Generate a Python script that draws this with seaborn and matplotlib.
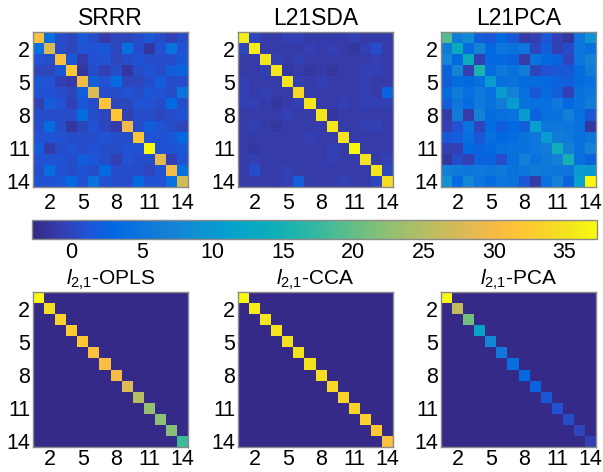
import numpy as np
import matplotlib
matplotlib.use("Agg")
import matplotlib.pyplot as plt
from matplotlib.colors import LinearSegmentedColormap, Normalize
from matplotlib.cm import ScalarMappable
import seaborn as sns

sns.set_style("white")
plt.rcParams["font.family"] = ["Liberation Sans", "DejaVu Sans"]
plt.rcParams["mathtext.fontset"] = "custom"
plt.rcParams["mathtext.rm"] = "Liberation Sans"
plt.rcParams["mathtext.it"] = "Liberation Sans:italic"
plt.rcParams["text.color"] = "black"
plt.rcParams["xtick.color"] = "black"
plt.rcParams["ytick.color"] = "black"

# ---- data -------------------------------------------------------------
tick_labels = ["2", "5", "8", "11", "14"]
cbar_ticks = [0, 5, 10, 15, 20, 25, 30, 35]
vmin, vmax = -2.8, 37.3

srrr = [
    [31, 4, 0.5, 0, 1.5, 0.5, -1, 0, 0, 0.5, 1.5, 0.5, -0.5, 0.5],
    [4, 28, 0.5, 0, 1, 1, 1.5, 0, 4, 0.5, -1.5, 1, 4.5, 1],
    [1, 0.5, 30.5, 1.5, -1, 1, 1, 0, 0.5, 1, 0.5, 0.5, 0.5, 1.5],
    [0, 0, 1.5, 32, -1.5, 0.5, -0.5, 0.5, -1.5, 0.5, 1, 0.5, 2, 2.5],
    [1.5, 1, -0.5, -1, 30, 2, 1, 3.5, 0, 0, 0.5, 2, 0.5, 0.5],
    [1, 1, 0.5, 0, 2, 28, 0.5, 0.5, 1, 0.5, 1.5, 1, 0.5, 4.5],
    [-0.5, 2, 1, -0.5, 1.5, 0.5, 31.5, 0, 0, 1, 1, 0.5, 3, 0.5],
    [0.5, 0.5, 0.5, 0.5, 3.5, 0.5, 0, 32, -0.5, 0.5, 0.5, 0, 0.5, 1],
    [0.5, 3.5, 0.5, -1.5, 0, 1, 0, -1, 29.5, 0.5, 2, 1, 0.5, 0],
    [1, 1, 1, 0.5, 0.5, 0.5, 1, 0.5, 0.5, 31.5, 1, 1, 1.5, 3],
    [2, -1, 0.5, 1, 0.5, 1, 0.5, 0.5, 1, 1, 37, 1, 1, 1.5],
    [1, 1, 1, 0.5, 2, 1.5, 0.5, -0.5, 1, 0.5, 0.5, 28.5, -0.5, 1],
    [0.5, 3.5, 1, 0.5, 1, 0.5, 3, 0.5, 0.5, 0.5, 0, 1, 30, 4],
    [1, 1, 1.5, 3, 1, 4.5, 1, 0.5, 0.5, 3, 1, 1, 4, 27],
]

l21sda = [
    [36, 0, -1, -1, -0.5, -0.5, -1, -1, -1, -1, -0.5, -1, -1, -1],
    [0, 36, -1, -1, -1, -1, -0.5, -1, -0.5, -1, -1.5, -0.5, 0.5, -1],
    [-1, -1, 35.5, -0.5, -1, -0.5, -1, -1, -1, -1, -1, -1, -0.5, -1],
    [-1, -1, -0.5, 35.5, -1.5, -1, -1.5, -1, -1.5, -1, -1, -0.5, -0.5, -1],
    [-0.5, -1, -1, -1, 35.5, -0.5, -1, -0.5, -1, -1, -1, -0.5, -1, -1],
    [-0.5, -1, -0.5, -1, -1, 34, -1, -1, -1, -1, -1, -0.5, -1, 2.5],
    [-0.5, -0.5, -1, -1.5, -1, -0.5, 35.5, -1, -1, -0.5, -1, -0.5, -0.5, -0.5],
    [-1, -1, -1, -1, -0.5, -1, -1, 35.5, -1.5, -1, -1, -1, -1, -1],
    [-1, -0.5, -1, -1.5, -1, -1, -1, -1, 35.5, -1, -1, -0.5, -0.5, -1],
    [-1, -1, -1, -1, -1, -1, -0.5, -1, -1, 35.5, -1, -1, -1, -1],
    [-1, -1.5, -1, -1, -1, -1, -1, -1, -0.5, -1, 37, -1, -1, -1],
    [-1, -0.5, -1, -1, -1, -1, -1, -1, -0.5, -1, -1, 35, -1, -0.5],
    [-1, 0.5, -1, -1, -0.5, -1, -1, -1, -1, -1, -1, -1, 35.5, 0],
    [-1, -1, -1, -1, -0.5, 2, -1, -1, -1, -0.5, -1, -1, 0, 34.5],
]

l21pca = [
    [19, 6, 8, 2, 1.5, 3, 1.5, -1, -0.5, 1.5, -0.5, -1.5, 5, 9],
    [6, 13.5, 3.5, 7.5, 3, 5, 4.5, 5, 0, 2, -0.5, 0.5, 5, 4],
    [7.5, 3, 13.5, -0.5, 3, 3, 2.5, -1, 4.5, 3, 2.5, 0, 5, 7],
    [2.5, 7.5, -0.5, 15.5, 3.5, 5.5, 4.5, 6, 0, 1, 1.5, 1.5, 3.5, 6],
    [2, 3.5, 3, 4, 10.5, 4, 4.5, 3.5, 3.5, 3, 2.5, 2, 3.5, 4],
    [3.5, 6, 4, 5.5, 4, 10.5, 6.5, 4, 1.5, 3.5, 2, -0.5, 4.5, 5],
    [2, 5, 3.5, 5.5, 4.5, 6, 10.5, 4.5, 4, 4, 5.5, 3, 4.5, 6],
    [-1, 6, -1, 7, 3.5, 4, 4.5, 10.5, 2.5, 4, 4.5, 6.5, 4, 1.5],
    [-0.5, 1, 4.5, 0, 3.5, 2, 3, 2, 11, 5, 5.5, 5, 4, -1.5],
    [1.5, 2, 4, 1.5, 4, 3, 3.5, 4.5, 5, 10.5, 6, 5.5, 4, 5],
    [-0.5, -0.5, 3, 2.5, 3, 4, 4.5, 4.5, 5, 6, 14, 6.5, 4.5, 7],
    [-1.5, 0.5, -0.5, 2.5, 2.5, 0.5, 4, 6.5, 4.5, 5.5, 6.5, 15, 4, 2.5],
    [6.5, 6, 5, 5.5, 5, 5.5, 4.5, 5, 6, 5.5, 5, 5, 10.5, 10],
    [9, 3.5, 7.5, 5, 3.5, 5, 4.5, 1.5, -1, 4, 6.5, 2.5, 11, 37],
]

# diagonal-only methods: off-diagonal entries sit at the bottom of the scale
l21opls_diag = [37, 34.5, 33, 32.5, 32, 31, 30.5, 30, 28, 25, 23, 22.5, 22, 18]
l21cca_diag = [37, 36, 35.5, 35.5, 35, 35, 35, 34.5, 34, 33.5, 33.5, 33, 32, 31]
l21pca2_diag = [37, 26, 21, 11.5, 7.5, 5.5, 4, 3, 2.5, 1.5, 1, 0.5, 0, -0.5]
off_diag_floor = -2.8

# ---- parula colormap --------------------------------------------------
parula_pts = [
    (0.2081, 0.1663, 0.5292), (0.2081, 0.2386, 0.6771), (0.1253, 0.3242, 0.8303),
    (0.0060, 0.4086, 0.8828), (0.0498, 0.4586, 0.8641), (0.0779, 0.5040, 0.8384),
    (0.0641, 0.5570, 0.8240), (0.0265, 0.6137, 0.8135), (0.0228, 0.6535, 0.7768),
    (0.0590, 0.6838, 0.7254), (0.1453, 0.7098, 0.6646), (0.2586, 0.7317, 0.5954),
    (0.3953, 0.7459, 0.5244), (0.5300, 0.7491, 0.4661), (0.6473, 0.7456, 0.4188),
    (0.7525, 0.7384, 0.3768), (0.8507, 0.7299, 0.3360), (0.9450, 0.7261, 0.2886),
    (0.9990, 0.7653, 0.2164), (0.9789, 0.8271, 0.1633), (0.9589, 0.8949, 0.1132),
    (0.9763, 0.9831, 0.0538),
]
parula = LinearSegmentedColormap.from_list("parula", parula_pts, N=256)


def diag_matrix(diag, floor):
    m = np.full((len(diag), len(diag)), floor, dtype=float)
    np.fill_diagonal(m, diag)
    return m


panels = [
    ("SRRR", np.array(srrr, dtype=float)),
    ("L21SDA", np.array(l21sda, dtype=float)),
    ("L21PCA", np.array(l21pca, dtype=float)),
    (r"$l_{2{,}1}$-OPLS", diag_matrix(l21opls_diag, off_diag_floor)),
    (r"$l_{2{,}1}$-CCA", diag_matrix(l21cca_diag, off_diag_floor)),
    (r"$l_{2{,}1}$-PCA", diag_matrix(l21pca2_diag, off_diag_floor)),
]

# ---- layout -----------------------------------------------------------
W, H = 603, 472
fig = plt.figure(figsize=(W / 100, H / 100), dpi=100)

lefts = [33, 238, 441]
tops = [32, 292]
size = 155

tick_pos = [int(t) - 0.5 for t in tick_labels]
edge = "#8a8a8a"
tick_fs = 15.5
title_fs = [16.5, 15]
title_pad = [5, 5]
xpad = [4, 1.5]

for i, (title, mat) in enumerate(panels):
    r, c = divmod(i, 3)
    ax = fig.add_axes([lefts[c] / W, 1 - (tops[r] + size) / H, size / W, size / H])
    sns.heatmap(mat, ax=ax, cmap=parula, vmin=vmin, vmax=vmax, cbar=False,
                xticklabels=False, yticklabels=False)
    ax.set_xticks(tick_pos)
    ax.set_xticklabels(tick_labels, fontsize=tick_fs, rotation=0)
    ax.set_yticks(tick_pos)
    ax.set_yticklabels(tick_labels, fontsize=tick_fs, rotation=0)
    ax.tick_params(axis="both", direction="in", length=2, width=0.6,
                   color="#333333", bottom=True, left=True)
    ax.tick_params(axis="x", pad=xpad[r])
    ax.tick_params(axis="y", pad=2)
    for sp in ax.spines.values():
        sp.set_visible(True)
        sp.set_color(edge)
        sp.set_linewidth(1.0)
    ax.set_title(title, fontsize=title_fs[r], pad=title_pad[r])

# shared horizontal colorbar between the rows
cax = fig.add_axes([32 / W, 1 - 239 / H, 565 / W, 19 / H])
sm = ScalarMappable(norm=Normalize(vmin=vmin, vmax=vmax), cmap=parula)
cb = fig.colorbar(sm, cax=cax, orientation="horizontal", ticks=cbar_ticks)
cb.ax.tick_params(labelsize=tick_fs, direction="in", length=3, width=0.6,
                  color="#333333", pad=2)
cb.outline.set_edgecolor(edge)
cb.outline.set_linewidth(1.0)

fig.savefig("out.png", dpi=100)
